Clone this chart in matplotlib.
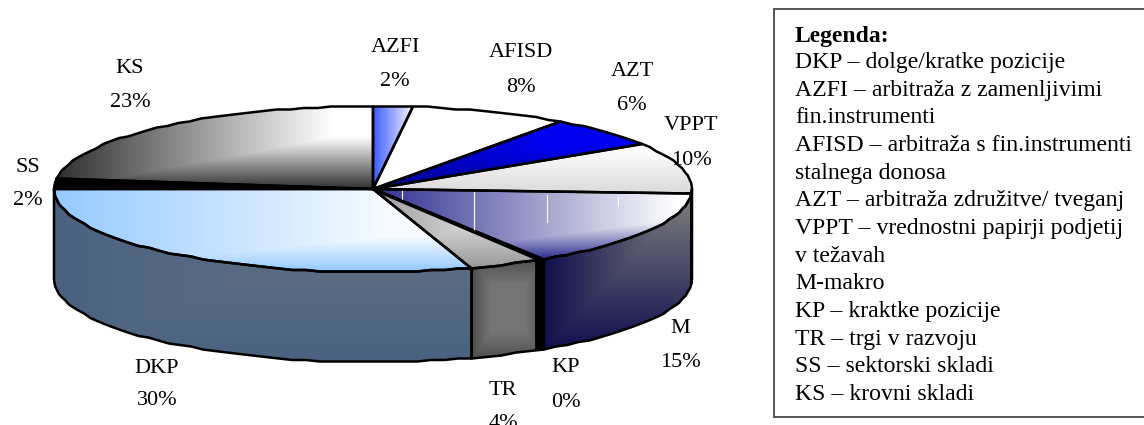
import numpy as np
import matplotlib
matplotlib.use("Agg")
import matplotlib.pyplot as plt
from matplotlib.colors import to_rgb
from matplotlib.patches import Polygon, Rectangle

plt.rcParams["font.family"] = ["Liberation Serif", "DejaVu Serif"]

# Portfolio shares per hedge fund strategy, clockwise from twelve o'clock
labels = ["AZFI", "AFISD", "AZT", "VPPT", "M", "KP", "TR", "DKP", "SS", "KS"]
shares = [2, 8, 6, 10, 15, 0, 4, 30, 2, 23]

legend_title = "Legenda:"
legend_lines = [
    "DKP – dolge/kratke pozicije",
    "AZFI – arbitraža z zamenljivimi",
    "fin.instrumenti",
    "AFISD – arbitraža s fin.instrumenti",
    "stalnega donosa",
    "AZT – arbitraža združitve/ tveganj",
    "VPPT – vrednostni papirji podjetij",
    "v težavah",
    "M-makro",
    "KP – kraktke pozicije",
    "TR – trgi v razvoju",
    "SS – sektorski skladi",
    "KS – krovni skladi",
]

# Gradient colours of the top and side faces:
# (edge, highlight, horizontal gain, vertical gain)
top_style = {
    "AZFI": ("#3f5cff", "#f4f4ff", 1.0, 1.6),
    "AFISD": ("#ffffff", "#ffffff", 1.0, 1.0),
    "AZT": ("#00008c", "#0000f0", 1.6, 1.6),
    "VPPT": ("#dadada", "#ffffff", 1.1, 1.1),
    "M": ("#2f2f92", "#ffffff", 1.05, 1.8),
    "TR": ("#9a9a9a", "#e4e4e4", 1.5, 1.5),
    "DKP": ("#96caff", "#f6fbff", 1.25, 2.4),
    "SS": ("#000000", "#000000", 1.0, 1.0),
    "KS": ("#303030", "#ffffff", 1.15, 1.6),
}
side_style = {
    "VPPT": ("#555555", "#777777", 1.0, 1.0),
    "M": ("#10104e", "#808080", 1.0, 1.0),
    "TR": ("#505050", "#747474", 2.0, 2.0),
    "DKP": ("#4a6280", "#6c7684", 1.0, 1.0),
    "SS": ("#000000", "#000000", 1.0, 1.0),
}

# Ellipse geometry of the tilted pie, in pixels
CX, CY, RX, RY, DEPTH = 373.0, 189.0, 319.0, 83.0, 90.0
OUTLINE = 1.8


def rim(a0, a1, drop=0.0):
    """Points on the rim between two clockwise angles, lightly stepped."""
    n = max(2, int(abs(a1 - a0) / 2.5) + 1)
    ang = np.radians(np.linspace(a0, a1, n))
    x = CX + RX * np.sin(ang)
    y = np.round((CY - RY * np.cos(ang)) / 1.5) * 1.5 + drop
    return np.column_stack([x, y])


def shaded(poly, style, centred=False):
    """Fill a polygon with a corner gradient clipped to its outline."""
    lo, hi, gain_u, gain_v = style
    x0, y0 = poly.min(axis=0)
    x1, y1 = poly.max(axis=0)
    w = max(int(x1 - x0), 2)
    h = max(int(y1 - y0), 2)
    u, v = np.meshgrid(np.linspace(0, 1, w), np.linspace(1, 0, h))
    t = np.minimum(u, 1 - u) * 2 if centred else u
    s = np.minimum(v, 1 - v) * 2 if centred else v
    mix = np.clip(np.minimum(t * gain_u, s * gain_v), 0, 1)[..., None]
    rgb = np.array(to_rgb(lo)) * (1 - mix) + np.array(to_rgb(hi)) * mix
    im = ax.imshow(rgb, extent=(x0, x1, y1, y0), aspect="auto", zorder=2,
                   interpolation="bilinear")
    patch = Polygon(poly, closed=True, transform=ax.transData,
                    facecolor="none", edgecolor="none")
    ax.add_patch(patch)
    im.set_clip_path(patch)
    ax.add_patch(Polygon(poly, closed=True, facecolor="none", edgecolor="black",
                         linewidth=OUTLINE, joinstyle="round", zorder=3))


fig = plt.figure(figsize=(11.44, 4.25), dpi=100, facecolor="white")
ax = fig.add_axes([0, 0, 1, 1])

edges = np.concatenate([[0], np.cumsum(shares)]) * 360.0 / sum(shares)

# Outer wall: only the part of each slice on the near half of the pie
for name, a0, a1 in zip(labels, edges[:-1], edges[1:]):
    lo, hi = max(a0, 90), min(a1, 270)
    if hi <= lo or name not in side_style:
        continue
    wall = np.vstack([rim(lo, hi), rim(lo, hi, DEPTH)[::-1]])
    shaded(wall, side_style[name], centred=name == "TR")

# Top surface of every slice
for name, a0, a1 in zip(labels, edges[:-1], edges[1:]):
    if a1 == a0:
        continue
    face = np.vstack([[[CX, CY]], rim(a0, a1)])
    shaded(face, top_style[name])

# A slice of zero share still shows as a heavy black seam
for name, a0, a1 in zip(labels, edges[:-1], edges[1:]):
    if a1 == a0:
        px, py = rim(a0, a0 + 1e-6)[0]
        ax.plot([CX, px - 3], [CY, py + 1], color="black", lw=2.4, zorder=4)
        ax.plot([px - 5, px - 5], [py, py + DEPTH], color="black", lw=5.6,
                solid_capstyle="butt", zorder=4)

# Hairline seams left in the gradient of the macro slice
for gx, g0, g1 in [(402, 191, 200), (474, 192, 230), (547, 195, 222), (618, 197, 206)]:
    ax.plot([gx, gx], [g0, g1], color="white", lw=0.8, zorder=3.5)

# Slice captions: x and the baselines of name and share
caption_xy = {
    "AZFI": (395, 52, 86),
    "AFISD": (521, 57, 92),
    "AZT": (632, 76, 110),
    "VPPT": (691, 130, 165),
    "M": (680, 333, 367),
    "KP": (566, 372, 407),
    "TR": (503, 395, 428),
    "DKP": (157, 373, 405),
    "SS": (28, 172, 205),
    "KS": (130, 73, 107),
}
for name, share in zip(labels, shares):
    x, y_name, y_share = caption_xy[name]
    ax.text(x, y_name, name, ha="center", va="baseline", fontsize=16, zorder=6)
    ax.text(x, y_share, f"{share}%", ha="center", va="baseline", fontsize=16, zorder=6)

# Legend box at the right, running off the edge of the figure
ax.add_patch(Rectangle((774, 9), 380, 408, facecolor="white", edgecolor="#555555",
                       linewidth=1.4, zorder=1))
ax.text(795, 42, legend_title, fontsize=17, fontweight="bold", va="baseline", zorder=6)
for i, line in enumerate(legend_lines):
    ax.text(795, 68 + i * 27.67, line, fontsize=17.1, va="baseline", zorder=6)

ax.set_xlim(0, 1144)
ax.set_ylim(425, 0)
ax.axis("off")
fig.savefig("out.png", dpi=100, facecolor="white")
